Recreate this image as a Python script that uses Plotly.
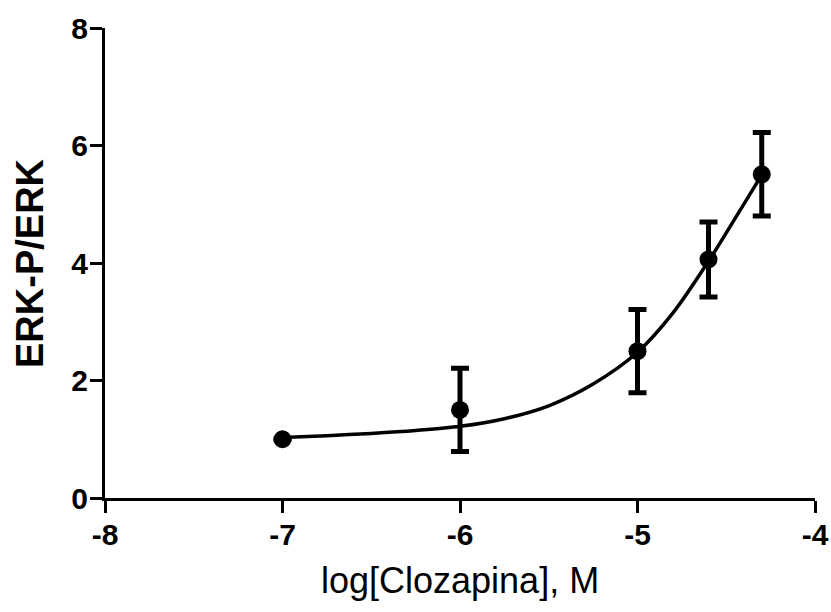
import plotly.graph_objects as go

# Data points (mean ± SEM)
log_conc = [-7.0, -6.0, -5.0, -4.6, -4.3]
ratio = [1.0, 1.5, 2.5, 4.06, 5.51]
sem = [None, 0.71, 0.71, 0.64, 0.71]

# Fitted curve
curve_x = [-7.0, -6.75, -6.5, -6.25, -6.0, -5.75, -5.5, -5.25, -5.0, -4.8, -4.6, -4.45, -4.3]
curve_y = [1.03, 1.06, 1.10, 1.15, 1.22, 1.35, 1.57, 1.94, 2.48, 3.15, 4.03, 4.76, 5.5]

x_ticks = [-8, -7, -6, -5, -4]
y_ticks = [0, 2, 4, 6, 8]

FONT = "Liberation Sans, Arial, sans-serif"

fig = go.Figure()
fig.add_trace(go.Scatter(
    x=curve_x, y=curve_y, mode="lines",
    line=dict(color="black", width=3.5, shape="spline", smoothing=0.9),
    hoverinfo="skip", showlegend=False,
))
fig.add_trace(go.Scatter(
    x=log_conc, y=ratio, mode="markers",
    marker=dict(color="black", size=18),
    error_y=dict(type="data", array=sem, visible=True, color="black",
                 thickness=5, width=9),
    cliponaxis=False, showlegend=False,
))

fig.update_layout(
    width=831, height=612,
    margin=dict(l=105, r=16, t=28, b=114),
    plot_bgcolor="white", paper_bgcolor="white",
    xaxis=dict(
        range=[-8, -4], tickvals=x_ticks, ticktext=[str(v) for v in x_ticks],
        showline=True, linecolor="black", linewidth=3,
        ticks="outside", ticklen=12, tickwidth=3, tickcolor="black",
        showgrid=False, zeroline=False, automargin=False,
        ticklabelstandoff=-4,
        tickfont=dict(family=FONT, size=30, color="black", weight="bold"),
    ),
    yaxis=dict(
        range=[0, 8], tickvals=y_ticks, ticktext=[str(v) for v in y_ticks],
        showline=True, linecolor="black", linewidth=3,
        ticks="outside", ticklen=12, tickwidth=3, tickcolor="black",
        showgrid=False, zeroline=False, automargin=False,
        ticklabelstandoff=-4,
        tickfont=dict(family=FONT, size=30, color="black", weight="bold"),
    ),
    annotations=[
        dict(text="log[Clozapina], M", xref="paper", yref="paper",
             x=0.5, y=0, yshift=-82, xanchor="center", yanchor="middle",
             showarrow=False,
             font=dict(family=FONT, size=36, color="black")),
        dict(text="ERK-P/ERK", xref="paper", yref="paper",
             x=0, y=0.5, xshift=-75, xanchor="center", yanchor="middle",
             textangle=-90, showarrow=False,
             font=dict(family=FONT, size=38, color="black", weight="bold")),
    ],
)

fig.write_html("out.html")
